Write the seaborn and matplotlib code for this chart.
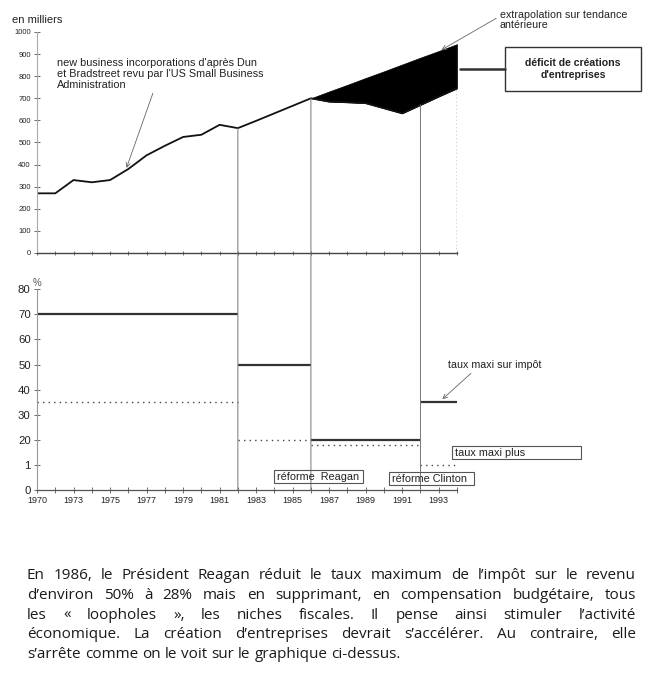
import matplotlib
matplotlib.use('Agg')
import matplotlib.pyplot as plt
import seaborn as sns
from matplotlib.patches import Rectangle, ConnectionPatch
from matplotlib.lines import Line2D

W, H = 654, 692

# new business incorporations (thousands)
years = list(range(1971, 1995))
firms = [270, 270, 330, 320, 330, 380, 442, 485, 525, 535, 580, 565,
         598, 632, 666, 700, 685, 682, 678, 655, 632, 670, 708, 745]
# extrapolation of the former trend
trend_years = list(range(1986, 1995))
trend = [700, 731, 761, 792, 822, 853, 884, 914, 945]
reform_years = [1982, 1986, 1992]

# top income tax rate / capital gains rate (%)
rate_start = [1971, 1982, 1986, 1992]
rate_end = [1982, 1986, 1992, 1994]
top_rate = [70, 50, 20, 35]
gains_rate = [35, 20, 18, 10]

xtick_years = list(range(1971, 1994, 2))
xtick_labels = ['1970', '1973', '1975', '1977', '1979', '1981',
                '1983', '1985', '1987', '1989', '1991', '1993']
rate_ticks = list(range(0, 81, 10))
rate_labels = ['0', '1', '20', '30', '40', '50', '60', '70', '80']

para_lines = [
    "En 1986, le Président Reagan réduit le taux maximum de l’impôt sur le revenu",
    "d’environ 50% à 28% mais en supprimant, en compensation budgétaire, tous",
    "les « loopholes », les niches fiscales. Il pense ainsi stimuler l’activité",
    "économique. La création d’entreprises devrait s’accélérer. Au contraire, elle",
    "s’arrête comme on le voit sur le graphique ci-dessus.",
]

sns.set_style('ticks')
plt.rcParams['font.family'] = ['Liberation Sans', 'DejaVu Sans']
INK = '#222222'


def fx(px):
    return px / W


def fy(py):
    return 1 - py / H


fig = plt.figure(figsize=(W / 100, H / 100), dpi=100)
ax1 = fig.add_axes([fx(37), fy(253), (457 - 37) / W, (253 - 32) / H])
ax2 = fig.add_axes([fx(37), fy(490), (457 - 37) / W, (490 - 289.3) / H])

# ---- top panel
sns.lineplot(x=years, y=firms, ax=ax1, color='#111111', lw=1.3)
ax1.vlines(years[0], 0, firms[0], color='#111111', lw=1.3)
i86 = years.index(trend_years[0])
ax1.fill_between(trend_years, firms[i86:], trend, color='black', lw=0.5)
ax1.vlines(trend_years[-1], 0, trend[-1], color='#333333', lw=1, linestyles=':')
ax1.set_xlim(1971, 1994)
ax1.set_ylim(0, 1000)
ax1.set_yticks(range(0, 1001, 100))
ax1.set_xticks(years)
ax1.set_xticklabels([])
ax1.tick_params(axis='y', direction='inout', length=5, width=0.6, labelsize=5.5,
                colors='#555555', labelcolor=INK, pad=2)
ax1.tick_params(axis='x', direction='inout', length=3, width=0.6, colors='#555555')
ax1.spines['left'].set_color('#aaaaaa')
ax1.spines['left'].set_linewidth(0.8)
ax1.spines['bottom'].set_color('#444444')
ax1.spines['bottom'].set_linewidth(1.0)
sns.despine(ax=ax1)

# ---- bottom panel
ax2.hlines(top_rate, rate_start, rate_end, color='#333333', lw=1.6)
ax2.hlines(gains_rate, rate_start, rate_end, color='#444444', lw=1.0,
           linestyles=(0, (1, 3)))
ax2.set_xlim(1971, 1994)
ax2.set_ylim(0, 80)
ax2.set_yticks(rate_ticks, rate_labels)
ax2.set_xticks(xtick_years, xtick_labels)
ax2.set_xticks(years, minor=True)
ax2.tick_params(axis='y', direction='inout', length=5, width=0.6, labelsize=8.2,
                colors='#555555', labelcolor=INK, pad=2)
ax2.tick_params(axis='x', which='both', direction='inout', length=4, width=0.6,
                labelsize=6.5, colors='#555555', labelcolor=INK, pad=2)
ax2.spines['left'].set_color('#999999')
ax2.spines['left'].set_linewidth(0.8)
ax2.spines['bottom'].set_color('#555555')
ax2.spines['bottom'].set_linewidth(0.9)
sns.despine(ax=ax2)

# reform verticals spanning both panels
for yr in reform_years:
    con = ConnectionPatch(xyA=(yr, firms[years.index(yr)]), coordsA='data', axesA=ax1,
                          xyB=(yr, 0), coordsB='data', axesB=ax2,
                          color='#777777', lw=0.7)
    fig.add_artist(con)

# ---- annotations
fig.text(fx(12), fy(20), 'en milliers', fontsize=8, color=INK, va='center')
fig.text(fx(37), fy(283), '%', fontsize=7, color='#555555', ha='center', va='center')

ax1.annotate("new business incorporations d'après Dun\net Bradstreet revu par l'US Small Business\nAdministration",
             xy=(years[5] - 0.1, firms[5] + 5), xycoords='data',
             xytext=(fx(57), fy(58)), textcoords='figure fraction',
             fontsize=7.8, color=INK, va='top', ha='left', linespacing=1.12,
             arrowprops=dict(arrowstyle='->', color='#666666', lw=0.6,
                             shrinkA=0, shrinkB=0, relpos=(0.47, 0.0)))

ax1.annotate("extrapolation sur tendance\nantérieure",
             xy=(trend_years[-2] + 0.15, trend[-2] + 5), xycoords='data',
             xytext=(fx(500), fy(10.5)), textcoords='figure fraction',
             fontsize=7.7, color=INK, va='top', ha='left', linespacing=0.95,
             arrowprops=dict(arrowstyle='->', color='#666666', lw=0.6,
                             shrinkA=0, shrinkB=0, relpos=(-0.03, 0.6)))

fig.add_artist(Line2D([fx(460), fx(505)], [fy(69.3), fy(69.3)],
                      transform=fig.transFigure, color='#333333', lw=1.8))
fig.add_artist(Rectangle((fx(505), fy(91)), (641 - 505) / W, (91 - 47) / H,
                         transform=fig.transFigure, fill=False,
                         ec='#333333', lw=1.0))
fig.text(fx(573), fy(69), "déficit de créations\nd'entreprises", fontsize=7.6,
         fontweight='bold', color=INK, ha='center', va='center', linespacing=1.3)

ax2.annotate("taux maxi sur impôt",
             xy=(1993.2, top_rate[-1] + 1.2), xycoords='data',
             xytext=(fx(447.7), fy(365)), textcoords='figure fraction',
             fontsize=7.7, color=INK, va='center', ha='left',
             arrowprops=dict(arrowstyle='->', color='#666666', lw=0.6,
                             shrinkA=0, shrinkB=0, relpos=(0.3, 0.1)))

boxes = [
    ('réforme  Reagan', 274, 470, 363, 483),
    ('réforme Clinton', 389, 472, 474, 484.5),
    ('taux maxi plus', 452, 446, 581, 459),
]
for label, x0, y0, x1, y1 in boxes:
    fig.add_artist(Rectangle((fx(x0), fy(y1)), (x1 - x0) / W, (y1 - y0) / H,
                             transform=fig.transFigure, fill=False,
                             ec='#555555', lw=0.8))
    fig.text(fx(x0 + 3), fy((y0 + y1) / 2 + 0.5), label, fontsize=7.8, color=INK,
             ha='left', va='center')

# ---- justified paragraph
renderer = fig.canvas.get_renderer()
left, right = 27, 636
baselines = [579, 599, 619, 638.5, 658]
pfont = dict(fontsize=11, family=['Open Sans', 'DejaVu Sans'], color='#1a1a1a')
probe = fig.text(0, 0, 'a a', **pfont)
w_aa = probe.get_window_extent(renderer).width
probe.set_text('aa')
space_w = w_aa - probe.get_window_extent(renderer).width
probe.remove()
for n, (line, base) in enumerate(zip(para_lines, baselines)):
    words = line.split(' ')
    arts = [fig.text(0, fy(base), w, va='baseline', ha='left', **pfont) for w in words]
    widths = [a.get_window_extent(renderer).width for a in arts]
    if n < len(para_lines) - 1:
        gap = max((right - left - sum(widths)) / (len(words) - 1), space_w * 0.6)
    else:
        gap = space_w
    x = left
    for a, w in zip(arts, widths):
        a.set_x(fx(x))
        x += w + gap

fig.savefig('out.png', dpi=100)
